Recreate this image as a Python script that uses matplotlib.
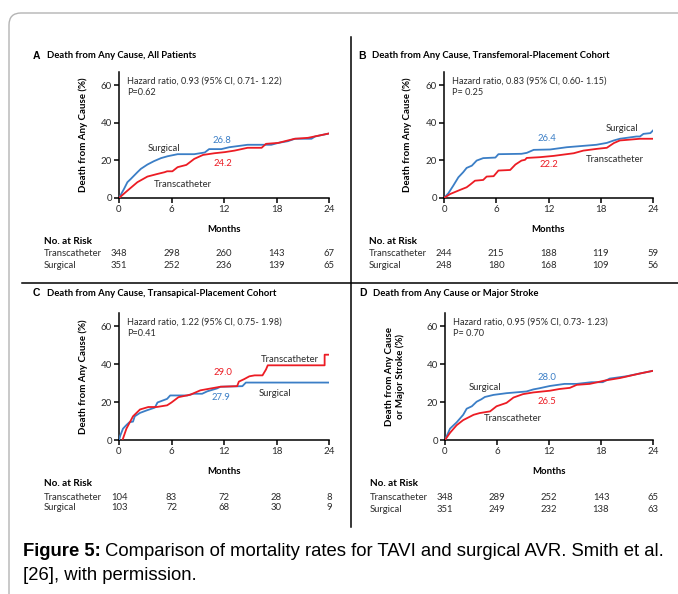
import matplotlib
matplotlib.use("Agg")
import matplotlib.pyplot as plt
from matplotlib.lines import Line2D
from matplotlib.patches import FancyBboxPatch
from matplotlib.transforms import IdentityTransform, blended_transform_factory

plt.rcParams["font.family"] = ["Lato", "DejaVu Sans"]

W, H = 678, 594
BLUE = "#3b7ec6"
RED = "#ec1c24"
DARK = "#2b2b2b"

MONTH_TICKS = [0, 6, 12, 18, 24]

# Panel A - all patients
A_SURG_M = [0, 0.57, 0.96, 1.34, 2.1, 2.5, 3.25, 4.0, 4.8, 5.55, 6.7, 8.6, 9.8, 10.3, 11.7, 12.6, 14.7, 17.4, 18.2, 19.3, 20.1, 22.0, 22.4, 24.0]
A_SURG_P = [0, 4.8, 8.4, 10.1, 13.7, 15.5, 17.8, 19.6, 21.2, 22.2, 23.3, 23.3, 24.2, 26.0, 26.0, 27.0, 28.3, 28.3, 29.3, 30.2, 31.5, 31.5, 32.7, 34.3]
A_TRANS_M = [0, 0.96, 2.1, 3.25, 4.4, 5.2, 5.5, 6.1, 6.7, 7.7, 8.6, 9.6, 10.9, 12.1, 13.2, 14.7, 16.3, 16.8, 18.2, 19.3, 20.1, 21.6, 24.0]
A_TRANS_P = [0, 3.9, 8.4, 11.4, 12.8, 13.7, 14.2, 14.2, 16.4, 17.6, 20.8, 22.9, 23.8, 24.4, 25.2, 26.7, 26.7, 28.8, 29.3, 30.6, 31.5, 32.0, 34.3]
A_RISK_T = [348, 298, 260, 143, 67]
A_RISK_S = [351, 252, 236, 139, 65]

# Panel B - transfemoral
B_SURG_M = [0, 0.5, 1.07, 1.65, 2.2, 2.6, 3.2, 3.75, 4.5, 5.9, 6.25, 8.9, 9.5, 10.3, 12.2, 14.1, 17.5, 18.7, 19.5, 20.2, 22.1, 22.5, 22.9, 23.7, 24.0]
B_SURG_P = [0, 2.5, 6.6, 11.0, 13.7, 16.0, 17.2, 19.9, 21.2, 21.5, 23.3, 23.5, 24.0, 25.6, 25.8, 27.0, 28.3, 29.3, 30.6, 31.5, 32.7, 32.7, 34.1, 34.5, 35.9]
B_TRANS_M = [0, 0.7, 1.84, 2.6, 3.0, 3.56, 4.5, 4.9, 5.7, 6.25, 7.6, 8.2, 8.9, 9.3, 9.5, 11.0, 12.6, 14.9, 16.0, 17.5, 18.7, 19.5, 20.2, 21.0, 22.5, 24.0]
B_TRANS_P = [0, 2.1, 4.3, 5.7, 7.1, 9.2, 9.6, 11.4, 11.6, 14.6, 14.9, 17.8, 19.9, 20.3, 21.3, 21.7, 22.4, 23.8, 25.2, 26.1, 26.7, 29.2, 30.6, 30.9, 31.5, 31.5]
B_RISK_T = [244, 215, 188, 119, 59]
B_RISK_S = [248, 180, 168, 109, 56]

# Panel C - transapical
C_SURG_M = [0, 0.15, 0.46, 0.85, 1.2, 1.6, 1.8, 2.4, 3.15, 4.1, 4.4, 5.5, 5.85, 7.8, 8.5, 9.5, 10.1, 11.2, 11.6, 14.1, 14.5, 24.0]
C_SURG_P = [0, 2.4, 6.0, 7.9, 9.4, 9.7, 12.5, 14.3, 15.6, 17.1, 19.8, 21.7, 23.5, 23.5, 24.4, 24.4, 25.7, 27.2, 28.1, 28.4, 30.3, 30.3]
C_TRANS_M = [0.4, 0.85, 1.6, 2.4, 3.35, 4.3, 5.5, 6.0, 6.8, 8.15, 9.3, 10.5, 11.6, 13.5, 13.7, 14.3, 14.9, 15.5, 16.4, 16.8, 17.0, 23.5, 23.5, 24.0]
C_TRANS_P = [0, 6.0, 12.5, 16.1, 17.4, 17.4, 18.3, 19.8, 22.6, 23.9, 26.2, 27.2, 28.1, 28.4, 30.8, 32.1, 33.6, 34.1, 34.1, 37.2, 39.4, 39.4, 45.0, 45.0]
C_RISK_T = [104, 83, 72, 28, 8]
C_RISK_S = [103, 72, 68, 30, 9]

# Panel D - death or major stroke
D_SURG_M = [0, 0.58, 1.34, 2.1, 2.5, 3.1, 3.65, 4.2, 4.6, 5.6, 7.1, 9.4, 10.2, 10.9, 12.1, 13.8, 15.2, 16.9, 18.2, 19.0, 20.9, 22.5, 24.0]
D_SURG_P = [0, 6.0, 9.3, 13.3, 16.5, 17.8, 20.2, 21.5, 22.7, 23.8, 24.7, 25.6, 26.7, 27.3, 28.5, 29.6, 29.6, 30.5, 30.5, 32.4, 33.6, 35.1, 36.5]
D_TRANS_M = [0, 0.58, 1.34, 2.1, 3.3, 4.0, 5.2, 5.95, 7.1, 7.9, 9.0, 10.2, 12.1, 13.2, 14.4, 15.2, 16.7, 18.6, 20.2, 22.5, 24.0]
D_TRANS_P = [0, 3.8, 7.8, 10.5, 13.3, 14.2, 15.1, 17.8, 19.6, 22.4, 24.2, 25.1, 26.0, 26.9, 27.5, 29.1, 29.6, 31.5, 32.7, 35.1, 36.5]
D_RISK_T = [348, 289, 252, 143, 65]
D_RISK_S = [351, 249, 232, 138, 63]


def fx(x):
    return x / W


def fy(y):
    return 1 - y / H


def draw_panel(fig, letter, title, box, surg, trans, risk_t, risk_s,
               hazard, pval, ylabel, labels, title_y, risk_y, label_x):
    left, right, zero, top = box
    ax = fig.add_axes([fx(left), fy(zero), (right - left) / W, (zero - top) / H])
    ax.plot(surg[0], surg[1], color=BLUE, lw=1.3, zorder=3)
    ax.plot(trans[0], trans[1], color=RED, lw=1.3, zorder=3)
    ax.set_xlim(0, 24)
    ax.set_ylim(0, 67)
    ax.set_xticks(MONTH_TICKS)
    ax.set_yticks([0, 20, 40, 60])
    for s in ["top", "right"]:
        ax.spines[s].set_visible(False)
    for s in ["left", "bottom"]:
        ax.spines[s].set_linewidth(1.1)
    ax.tick_params(direction="out", length=3.5, width=1.1, labelsize=7,
                   pad=1.5, colors="black", labelcolor=DARK)
    ax.set_xlabel("Months", fontsize=6.9, fontweight="bold")
    ax.xaxis.set_label_coords(0.5, -27 / (zero - top))
    ax.set_ylabel(ylabel, fontsize=7.0, fontweight="bold", linespacing=1.25)
    ax.yaxis.set_label_coords(label_x, 0.5)

    ax.text(0.95, 62.3, hazard, fontsize=6.55, color=DARK, va="center")
    ax.text(0.95, 56.0, pval, fontsize=6.55, color=DARK, va="center")
    for (x, y, s, c, ha) in labels:
        ax.text(x, y, s, fontsize=6.8, color=c, ha=ha, va="center")

    fig.text(fx(left - 86), fy(title_y), letter, fontsize=7.5, fontweight="bold",
             family="Liberation Sans", va="center")
    fig.text(fx(left - 72), fy(title_y), title, fontsize=6.8, fontweight="bold", va="center")

    # number at risk table
    tr = blended_transform_factory(ax.transData, fig.transFigure)
    fig.text(fx(left - 75), fy(risk_y[0]), "No. at Risk", fontsize=7.2,
             fontweight="bold", va="center")
    fig.text(fx(left - 75), fy(risk_y[1]), "Transcatheter", fontsize=6.8, va="center", color=DARK)
    fig.text(fx(left - 75), fy(risk_y[2]), "Surgical", fontsize=6.8, va="center", color=DARK)
    for m, t, s in zip(MONTH_TICKS, risk_t, risk_s):
        ax.text(m, fy(risk_y[1]), str(t), transform=tr, fontsize=6.8,
                ha="center", va="center", color=DARK)
        ax.text(m, fy(risk_y[2]), str(s), transform=tr, fontsize=6.8,
                ha="center", va="center", color=DARK)
    return ax


fig = plt.figure(figsize=(W / 100, H / 100), dpi=100)

# outer frame with rounded corner (journal figure box)
frame = FancyBboxPatch((9, -40), W + 40, H + 40 - 13, boxstyle="round,pad=0,rounding_size=12",
                       transform=IdentityTransform(), fill=False, ec="#b4b4b4", lw=1.0)
fig.patches.append(frame)

# panel dividers
fig.add_artist(Line2D([fx(351), fx(351)], [fy(37), fy(527)], color="black", lw=1.1))
fig.add_artist(Line2D([fx(22), fx(678)], [fy(283), fy(283)], color="black", lw=1.1))

draw_panel(fig, "A", "Death from Any Cause, All Patients", (119, 329, 198, 72),
           (A_SURG_M, A_SURG_P), (A_TRANS_M, A_TRANS_P), A_RISK_T, A_RISK_S,
           "Hazard ratio, 0.93 (95% CI, 0.71- 1.22)", "P=0.62",
           "Death from Any Cause (%)",
           [(3.3, 26.5, "Surgical", DARK, "left"), (11.8, 30.8, "26.8", BLUE, "center"),
            (11.9, 18.6, "24.2", RED, "center"), (4.0, 7.4, "Transcatheter", DARK, "left")],
           56, (242, 254, 265), -0.148)

draw_panel(fig, "B", "Death from Any Cause, Transfemoral-Placement Cohort", (444, 653, 198, 72),
           (B_SURG_M, B_SURG_P), (B_TRANS_M, B_TRANS_P), B_RISK_T, B_RISK_S,
           "Hazard ratio, 0.83 (95% CI, 0.60- 1.15)", "P= 0.25",
           "Death from Any Cause (%)",
           [(18.6, 36.7, "Surgical", DARK, "left"), (11.8, 31.4, "26.4", BLUE, "center"),
            (12.0, 18.0, "22.2", RED, "center"), (16.3, 20.7, "Transcatheter", DARK, "left")],
           56, (242, 254, 265), -0.153)

draw_panel(fig, "C", "Death from Any Cause, Transapical-Placement Cohort", (119, 329, 440, 313),
           (C_SURG_M, C_SURG_P), (C_TRANS_M, C_TRANS_P), C_RISK_T, C_RISK_S,
           "Hazard ratio, 1.22 (95% CI, 0.75- 1.98)", "P=0.41",
           "Death from Any Cause (%)",
           [(16.2, 42.7, "Transcatheter", DARK, "left"), (11.9, 35.7, "29.0", RED, "center"),
            (11.6, 22.2, "27.9", BLUE, "center"), (16.0, 24.3, "Surgical", DARK, "left")],
           293, (484, 498, 507), -0.148)

draw_panel(fig, "D", "Death from Any Cause or Major Stroke", (445, 653, 440, 313),
           (D_SURG_M, D_SURG_P), (D_TRANS_M, D_TRANS_P), D_RISK_T, D_RISK_S,
           "Hazard ratio, 0.95 (95% CI, 0.73- 1.23)", "P= 0.70",
           "Death from Any Cause\nor Major Stroke (%)",
           [(2.75, 27.6, "Surgical", DARK, "left"), (11.8, 33.0, "28.0", BLUE, "center"),
            (11.8, 20.5, "26.5", RED, "center"), (4.5, 11.4, "Transcatheter", DARK, "left")],
           293, (484, 498, 509), -0.19)

# caption: bold lead-in followed by regular text
cap_size = 13.3
lead = fig.text(fx(23), fy(552), "Figure 5:", fontsize=cap_size, fontweight="bold",
                va="center", family="Liberation Sans")
renderer = fig.canvas.get_renderer()
lead_end = lead.get_window_extent(renderer).x1
fig.text((lead_end + 4) / W, fy(552),
         "Comparison of mortality rates for TAVI and surgical AVR. Smith et al.",
         fontsize=cap_size, va="center", family="Liberation Sans")
fig.text(fx(23), fy(575), "[26], with permission.", fontsize=cap_size, va="center",
         family="Liberation Sans")

fig.savefig("out.png", dpi=100)
